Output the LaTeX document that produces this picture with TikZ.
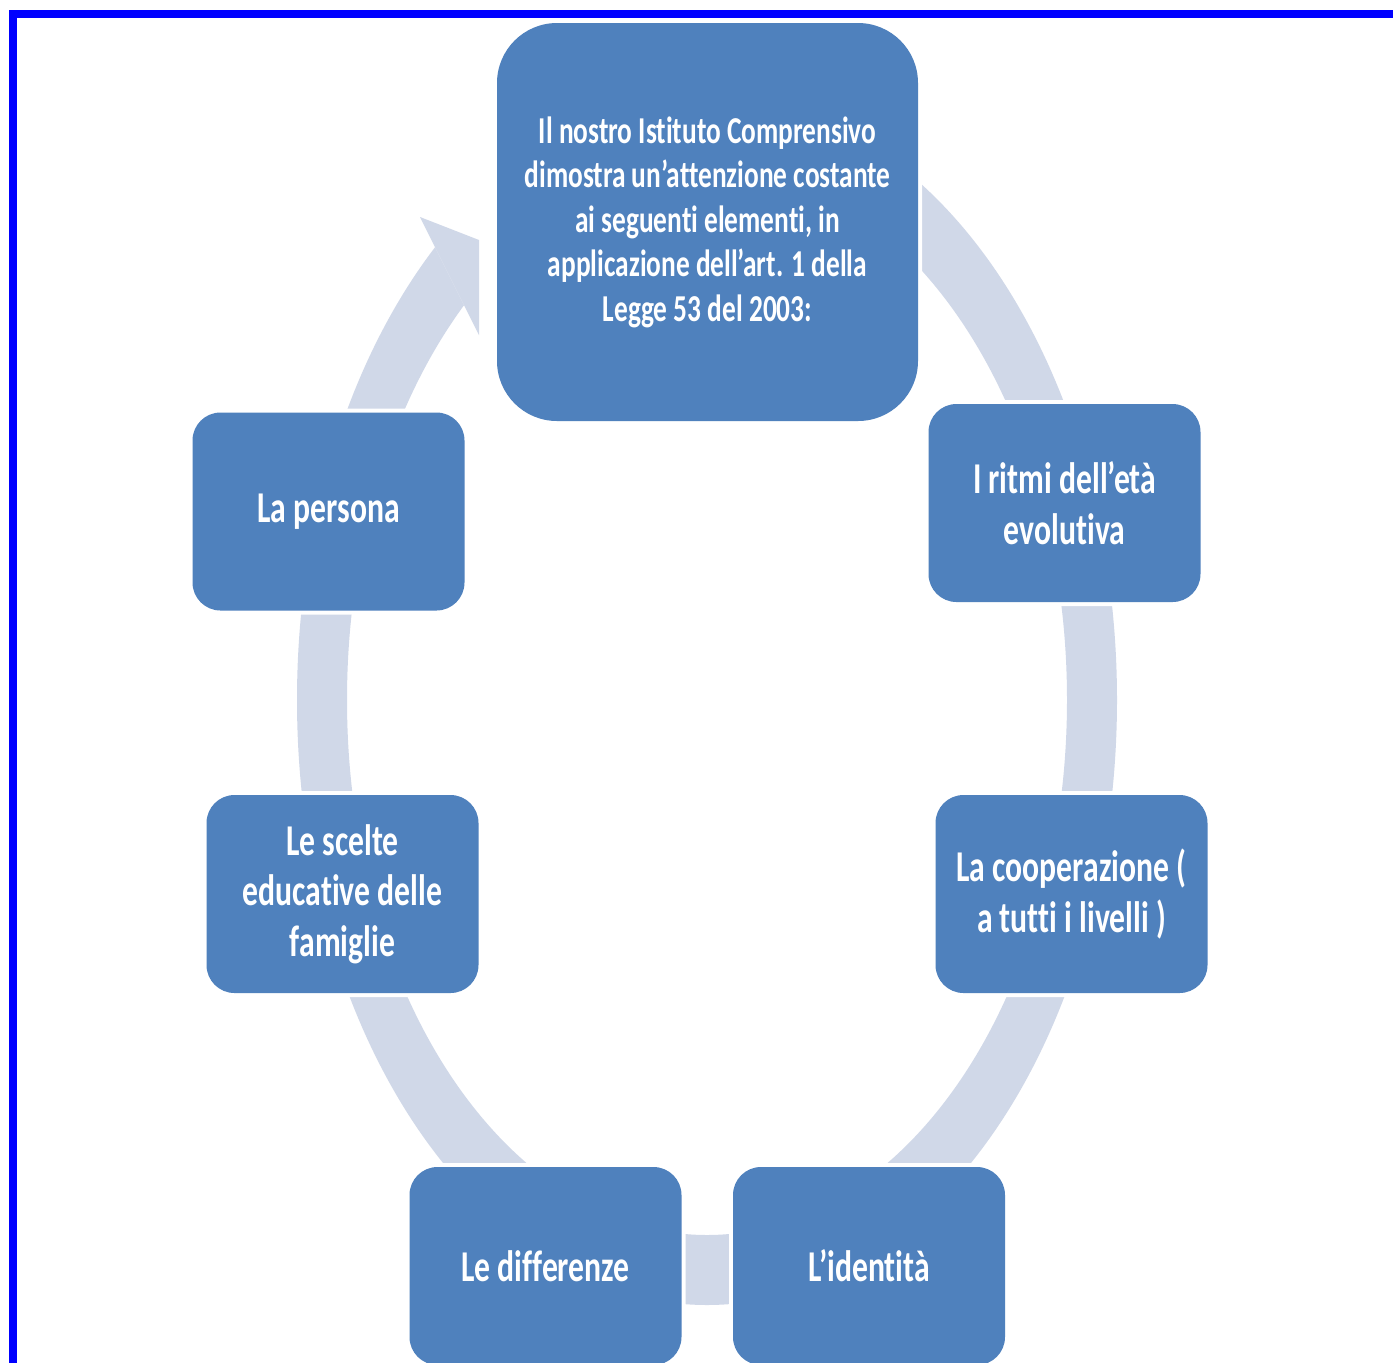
\documentclass[tikz,border=0pt]{standalone}
\usepackage{fontspec}
\newfontfamily\boxfont{Carlito}[FakeStretch=0.72, Ligatures={NoCommon,NoRequired}, Contextuals={NoAlternate}]
\definecolor{boxblue}{HTML}{4F81BD}
\definecolor{ringcol}{HTML}{D0D8E8}
\definecolor{frameblue}{HTML}{0000FF}
\begin{document}
\begin{tikzpicture}[x=0.5pt, y=-0.5pt,
  itembox/.style={rounded corners=14pt, fill=boxblue,
    preaction={draw=white, line width=4pt},
    text=white, font=\boxfont\bfseries\fontsize{22}{25.25}\selectfont,
    align=center, minimum width=136pt, minimum height=99pt, inner sep=0pt},
  mainbox/.style={itembox, rounded corners=30pt,
    font=\boxfont\bfseries\fontsize{19}{22.25}\selectfont,
    minimum width=210.5pt, minimum height=199pt},
  ring/.style={fill=ringcol}]
\fill[white] (0,0) rectangle (1393,1362);
\useasboundingbox (0,0) rectangle (1393,1362);
% cycle ring
\begin{scope}
  \clip (-50,-50) -- (286.5,-50) -- (479,335) -- (479,450) -- (922,450)
        -- (922,-50) -- (1500,-50) -- (1500,1500) -- (-50,1500) -- cycle;
  \fill[ring, even odd rule] (707,700) ellipse [x radius=205pt, y radius=302.5pt]
                             (707,700) ellipse [x radius=180pt, y radius=267.5pt];
\end{scope}
% arrow head (clipped at the top box)
\fill[ring] (420,217) -- (479,240) -- (479,335) -- cycle;
% frame
\draw[frameblue, line width=4pt] (13,14) rectangle (1420,1400);
% boxes
\node[mainbox] (top) at (707.5,222) {Il nostro Istituto Comprensivo\\dimostra un’attenzione costante\\ai seguenti elementi, in\\applicazione dell’art. 1 della\\Legge 53 del 2003:};
\node[itembox] (ritmi) at (1064.5,503) {I ritmi dell’età\\evolutiva};
\node[itembox] (coop) at (1071.5,894) {La cooperazione (\\a tutti i livelli )};
\node[itembox] (ident) at (869,1266) {L’identità};
\node[itembox] (diff) at (545.5,1266) {Le differenze};
\node[itembox] (scelte) at (342.5,894) {Le scelte\\educative delle\\famiglie};
\node[itembox] (persona) at (328.5,511.5) {La persona};
\end{tikzpicture}
\end{document}
